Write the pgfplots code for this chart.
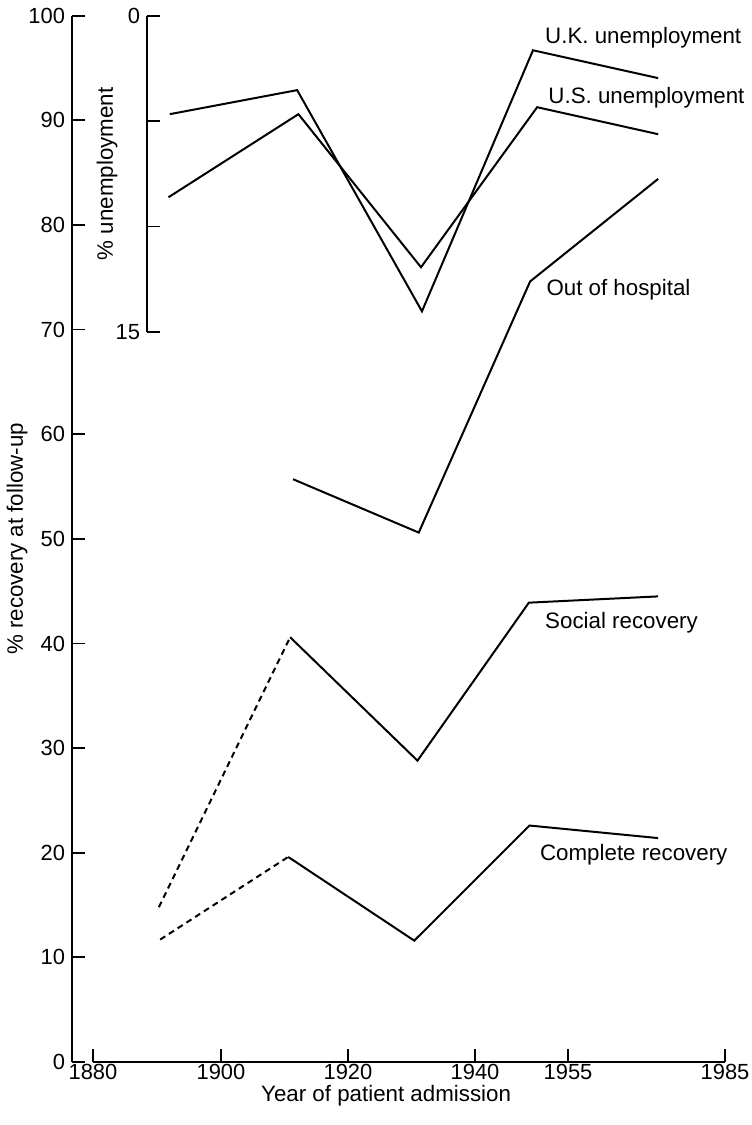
\documentclass[border=0pt]{standalone}
\usepackage{fontspec}
\setmainfont{Liberation Sans}
\usepackage{pgfplots}
\pgfplotsset{compat=1.18}
\begin{document}
\begin{tikzpicture}
\pgfplotsset{
  every axis/.append style={font=\fontsize{11.2}{13}\selectfont},
  tick label style={font=\fontsize{11}{13}\selectfont},
  /pgf/number format/assume math mode=true,
}
\useasboundingbox (-36bp,-31.5bp) rectangle (340bp,531bp);
% main axis (% recovery)
\begin{axis}[
  name=main,
  at={(0,0)}, anchor=south west,
  scale only axis,
  width=326.5bp, height=523.15bp,
  xmin=1876.72, xmax=1978.75,
  ymin=0, ymax=100,
  axis lines=left,
  axis line style={-, line width=1.1bp},
  x axis line style={draw=none},
  tick align=inside,
  major tick length=6.5bp,
  every tick/.style={black, line width=0.9bp},
  xtick={1880,1900,1919.84,1939.69,1954.22,1978.75},
  xticklabels={1880,1900,1920,1940,1955,1985},
  xticklabel style={yshift=2.5bp},
  ytick={0,10,...,100},
  xlabel={Year of patient admission},
  xlabel style={at={(ticklabel cs:0.481)}, anchor=north, yshift=4bp},
  ylabel={\% recovery at follow-up},
  ylabel style={at={(axis description cs:-0.0842,0.5)}, anchor=center},
  clip=false,
]
\draw[line width=1.1bp] (axis cs:1880,0) -- (axis cs:1978.75,0);
% Out of hospital
\addplot[black, line width=1bp] coordinates {(1911.25,55.7) (1930.9,50.6) (1948.3,74.6) (1968.3,84.4)};
% Social recovery
\addplot[black, line width=1bp, dash pattern=on 3bp off 2.2bp] coordinates {(1890.3,14.8) (1910.8,40.6)};
\addplot[black, line width=1bp] coordinates {(1910.8,40.6) (1930.7,28.8) (1948.1,43.9) (1968.3,44.5)};
% Complete recovery
\addplot[black, line width=1bp, dash pattern=on 3bp off 2.2bp] coordinates {(1890.5,11.7) (1910.5,19.6)};
\addplot[black, line width=1bp] coordinates {(1910.5,19.6) (1930.2,11.6) (1948.2,22.6) (1968.3,21.4)};
\node[anchor=west, inner sep=0pt] at (axis cs:1950.6,97.9) {U.K. unemployment};
\node[anchor=west, inner sep=0pt] at (axis cs:1951.1,92.2) {U.S. unemployment};
\node[anchor=west, inner sep=0pt] at (axis cs:1950.8,73.8) {Out of hospital};
\node[anchor=west, inner sep=0pt] at (axis cs:1950.6,42.0) {Social recovery};
\node[anchor=west, inner sep=0pt] at (axis cs:1949.8,19.8) {Complete recovery};
\end{axis}
% unemployment axis
\begin{axis}[
  at={(37.5bp,365bp)}, anchor=south west,
  scale only axis,
  width=289bp, height=158.15bp,
  xmin=1888.44, xmax=1978.75,
  ymin=0, ymax=15,
  y dir=reverse,
  hide x axis,
  axis y line=left,
  axis line style={-, line width=1.1bp},
  tick align=inside,
  major tick length=6.5bp,
  every tick/.style={black, line width=0.9bp},
  ytick={0,5,10,15},
  yticklabels={0,,,15},
  ylabel={\% unemployment},
  ylabel style={at={(axis description cs:-0.0692,0.5)}, anchor=center},
  clip=false,
]
% U.K. unemployment
\addplot[black, line width=1bp] coordinates {(1892.0,4.67) (1911.9,3.53) (1931.4,14.02) (1948.75,1.64) (1968.3,2.96)};
% U.S. unemployment
\addplot[black, line width=1bp] coordinates {(1891.8,8.61) (1912.1,4.67) (1931.25,11.93) (1949.4,4.34) (1968.3,5.62)};
\end{axis}
\end{tikzpicture}
\end{document}
